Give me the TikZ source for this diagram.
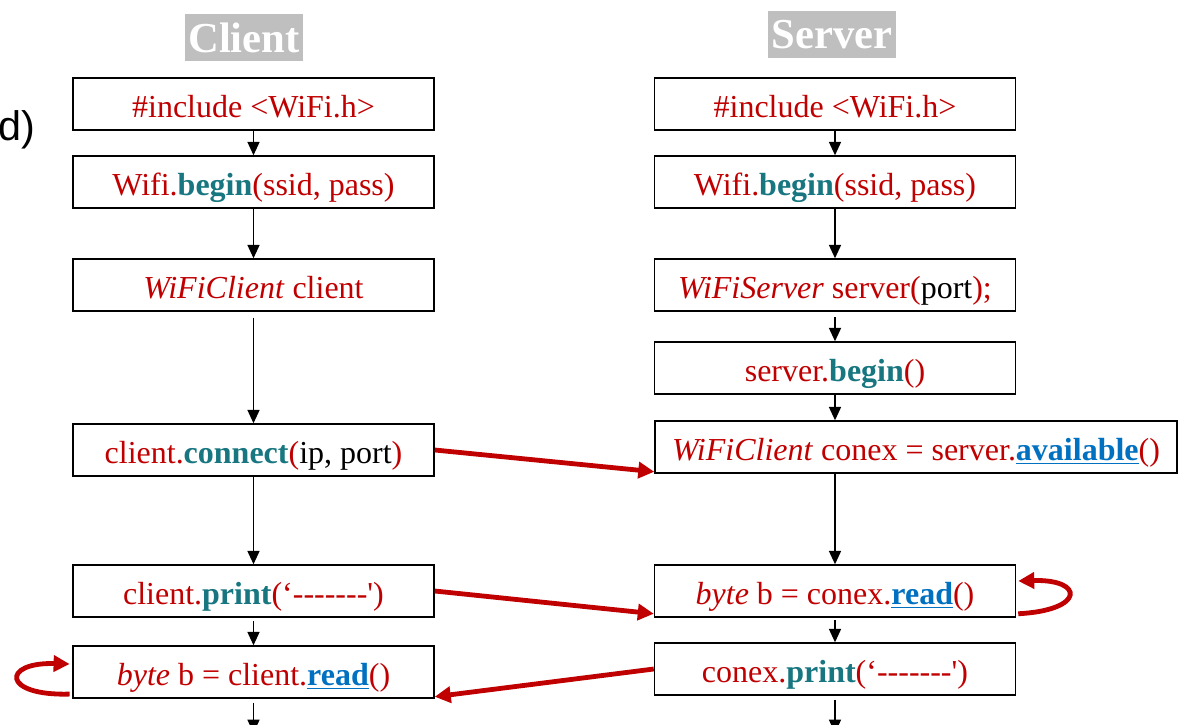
\documentclass[tikz,border=0pt]{standalone}
\usepackage{fontspec}
\usepackage{tikz}
\usetikzlibrary{arrows.meta}
\newfontfamily\codefont{Liberation Serif}[Ligatures=NoCommon]
\newfontfamily\labelfont{Liberation Sans}
\definecolor{codered}{RGB}{192,0,0}
\definecolor{codeteal}{RGB}{23,118,128}
\definecolor{codeblue}{RGB}{0,112,192}
\definecolor{titlegray}{RGB}{191,191,191}
\newcommand{\kwd}[1]{\textbf{\color{codeteal}#1}}
\newcommand{\ulfn}[1]{\textbf{\color{codeblue}\underline{#1}}}

\begin{document}
\begin{tikzpicture}[x=0.75pt, y=-0.75pt,
  main/.style = {draw, line width=1.1pt, minimum width=270.75pt, minimum height=39pt, inner sep=0pt, text height=20.5pt, text depth=0pt, text=codered, font=\codefont\fontsize{24}{28}\selectfont},
  wide/.style = {main, minimum width=391.5pt},
  title/.style = {fill=titlegray, text=white, inner xsep=2.5pt, inner ysep=0pt, minimum height=35.5pt, font=\codefont\bfseries\fontsize{32}{36}\selectfont},
  flow/.style = {-{Triangle[length=10pt,width=9pt]}, line width=1.1pt},
  link/.style = {-{Triangle[length=12pt,width=12pt]}, draw=codered, line width=3.6pt}]
\useasboundingbox (0,0) rectangle (1180,724);
\node[anchor=base west, inner sep=0pt, font=\labelfont\fontsize{31}{34}\selectfont] (part) at (-2,140) {d)};
\node[title] (ctitle) at (244,37.5) {Client};
\node[title] (stitle) at (832,34.5) {Server};
\node[main] (c1) at (253.5,104) {\#include <WiFi.h>};
\node[main] (c2) at (253.5,182) {Wifi.\kwd{begin}(ssid, pass)};
\node[main] (c3) at (253.5,285) {\textit{WiFiClient} client};
\node[main] (c4) at (253.5,450) {client.\kwd{connect}({\color{black}ip, port})};
\node[main] (c5) at (253.5,591) {client.\kwd{print}(‘-------')};
\node[main] (c6) at (253.5,672) {\textit{byte} b = client.\ulfn{read}()};
\node[main] (s1) at (835,104) {\#include <WiFi.h>};
\node[main] (s2) at (835,182) {Wifi.\kwd{begin}(ssid, pass)};
\node[main] (s3) at (835,285) {\textit{WiFiServer} server({\color{black}port});};
\node[main] (s4) at (835,368) {server.\kwd{begin}()};
\node[wide] (s5) at (916,447) {\textit{WiFiClient} conex = server.\ulfn{available}()};
\node[main] (s6) at (835,591) {\textit{byte} b = conex.\ulfn{read}()};
\node[main] (s7) at (835,669) {conex.\kwd{print}(‘-------')};
\coordinate (cend) at (253.5,733);
\coordinate (send) at (835,733);
\draw[flow] (c1) -- (c2);
\draw[flow] (c2) -- (c3);
\draw[flow, shorten <=4.5pt] (c3) -- (c4);
\draw[flow] (c4) -- (c5);
\draw[flow, shorten <=2.5pt] (c5) -- (c6);
\draw[flow, shorten <=3pt] (c6) -- (cend);
\draw[flow] (s1) -- (s2);
\draw[flow] (s2) -- (s3);
\draw[flow, shorten <=4pt] (s3) -- (s4);
\draw[flow] (s4.south) -- (s4.south |- s5.north);
\draw[flow] (s6.north |- s5.south) -- (s6.north);
\draw[flow, shorten <=2pt] (s6) -- (s7);
\draw[flow, shorten <=3pt] (s7) -- (send);
\draw[link] (c4.east) -- ([yshift=1.5pt]s5.south west);
\draw[link] (c5.east) -- ([yshift=3pt]s6.south west);
\draw[link] (s7.west) -- ([yshift=1.5pt]c6.south east);
\draw[link] ([xshift=1.5pt,yshift=3pt]s6.south east) .. controls +(50pt,2.5pt) and +(50pt,1.5pt) .. ([xshift=1.5pt,yshift=7.5pt]s6.east);
\draw[link] ([xshift=-2pt,yshift=3.5pt]c6.south west) .. controls +(-51pt,-1.5pt) and +(-51pt,1.5pt) .. ([xshift=-2pt,yshift=6pt]c6.west);
\end{tikzpicture}
\end{document}
